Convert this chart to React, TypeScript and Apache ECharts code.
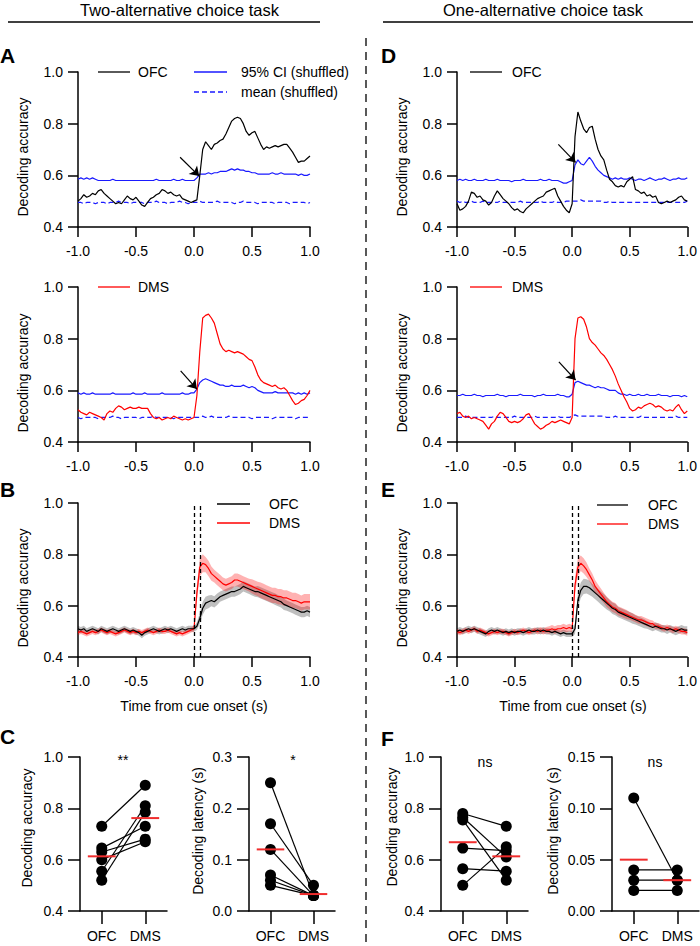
import React, { useEffect, useRef } from 'react';
import * as echarts from 'echarts';

const FONT = '"Liberation Sans", Arial, Helvetica, sans-serif';
const BLUE = '#1a1aff';
const RED = '#ff0000';
const MEANRED = 'rgb(240,45,45)';

// time grid (s), 0.025 s steps from -1 to 1
const TIME = Array.from({ length: 81 }, (_, i) => +(-1 + i * 0.025).toFixed(3));

// ---------- Panel A (two-alternative) ----------
const ofcA = [0.50,0.51,0.525,0.515,0.52,0.53,0.525,0.54,0.545,0.53,
  0.52,0.51,0.50,0.49,0.495,0.49,0.505,0.52,0.51,0.505,
  0.515,0.50,0.485,0.48,0.495,0.51,0.515,0.525,0.53,0.545,
  0.54,0.53,0.535,0.525,0.52,0.525,0.51,0.505,0.50,0.495,
  0.50,0.505,0.60,0.70,0.73,0.715,0.70,0.72,0.725,0.735,
  0.74,0.76,0.785,0.81,0.82,0.825,0.82,0.80,0.77,0.755,
  0.765,0.77,0.745,0.72,0.70,0.71,0.705,0.71,0.715,0.71,
  0.715,0.72,0.72,0.705,0.69,0.67,0.65,0.655,0.655,0.665,
  0.675];
const ciOfcA = [0.585,0.59,0.585,0.59,0.585,0.59,0.585,0.58,0.58,0.58,
  0.58,0.58,0.585,0.58,0.58,0.58,0.58,0.58,0.58,0.58,
  0.58,0.58,0.58,0.58,0.58,0.58,0.58,0.585,0.58,0.58,
  0.58,0.58,0.58,0.585,0.58,0.58,0.585,0.58,0.58,0.58,
  0.58,0.59,0.605,0.605,0.605,0.61,0.605,0.61,0.61,0.615,
  0.615,0.615,0.62,0.625,0.62,0.625,0.62,0.62,0.615,0.615,
  0.61,0.61,0.605,0.605,0.605,0.605,0.605,0.61,0.605,0.605,
  0.61,0.605,0.605,0.605,0.605,0.605,0.60,0.605,0.60,0.60,
  0.605];
const meanOfcA = [0.495,0.495,0.49,0.495,0.495,0.495,0.49,0.495,0.495,0.495,
  0.49,0.495,0.495,0.495,0.50,0.495,0.495,0.495,0.49,0.495,
  0.495,0.495,0.495,0.49,0.495,0.495,0.495,0.50,0.495,0.495,
  0.495,0.49,0.495,0.495,0.495,0.50,0.495,0.495,0.49,0.495,
  0.495,0.495,0.50,0.495,0.495,0.495,0.495,0.495,0.50,0.495,
  0.495,0.495,0.495,0.495,0.49,0.495,0.495,0.50,0.495,0.495,
  0.495,0.495,0.49,0.495,0.495,0.495,0.495,0.495,0.49,0.495,
  0.495,0.495,0.495,0.49,0.495,0.495,0.495,0.495,0.495,0.49,
  0.495];
const dmsA = [0.525,0.515,0.51,0.505,0.515,0.51,0.505,0.50,0.495,0.485,
  0.51,0.52,0.515,0.53,0.54,0.535,0.525,0.53,0.535,0.53,
  0.53,0.535,0.53,0.53,0.53,0.51,0.495,0.49,0.495,0.485,
  0.49,0.495,0.49,0.50,0.495,0.49,0.485,0.49,0.485,0.49,
  0.495,0.58,0.75,0.88,0.89,0.895,0.88,0.86,0.82,0.78,
  0.76,0.75,0.755,0.75,0.745,0.75,0.745,0.74,0.73,0.72,
  0.715,0.69,0.66,0.64,0.63,0.625,0.62,0.615,0.62,0.61,
  0.605,0.61,0.60,0.58,0.56,0.545,0.55,0.56,0.565,0.58,
  0.60];
const ciDmsA = [0.59,0.585,0.59,0.585,0.585,0.59,0.585,0.585,0.585,0.585,
  0.585,0.585,0.59,0.585,0.585,0.585,0.585,0.585,0.585,0.59,
  0.585,0.585,0.585,0.59,0.585,0.585,0.585,0.585,0.585,0.59,
  0.585,0.585,0.585,0.585,0.585,0.585,0.59,0.585,0.585,0.59,
  0.59,0.605,0.63,0.64,0.645,0.64,0.635,0.63,0.625,0.62,
  0.62,0.615,0.615,0.62,0.615,0.615,0.615,0.62,0.615,0.61,
  0.615,0.61,0.60,0.595,0.59,0.59,0.59,0.59,0.595,0.59,
  0.59,0.59,0.59,0.59,0.59,0.585,0.59,0.585,0.59,0.585,
  0.59];
const meanDmsA = [0.495,0.49,0.495,0.495,0.495,0.495,0.495,0.49,0.495,0.495,
  0.495,0.495,0.50,0.495,0.495,0.49,0.495,0.495,0.495,0.495,
  0.495,0.49,0.495,0.495,0.495,0.495,0.50,0.495,0.495,0.495,
  0.495,0.495,0.495,0.49,0.495,0.495,0.495,0.495,0.495,0.495,
  0.495,0.495,0.495,0.50,0.495,0.495,0.50,0.495,0.495,0.495,
  0.495,0.495,0.50,0.495,0.495,0.495,0.495,0.495,0.495,0.495,
  0.49,0.495,0.495,0.495,0.495,0.495,0.495,0.49,0.495,0.495,
  0.495,0.495,0.495,0.495,0.495,0.49,0.495,0.495,0.495,0.495,
  0.495];

// ---------- Panel B (two-alternative, population) ----------
const ofcB = [0.51,0.505,0.51,0.50,0.505,0.51,0.505,0.50,0.51,0.505,
  0.50,0.505,0.51,0.505,0.50,0.505,0.51,0.505,0.50,0.505,
  0.50,0.495,0.485,0.495,0.50,0.505,0.51,0.505,0.50,0.505,
  0.51,0.505,0.51,0.505,0.50,0.505,0.51,0.505,0.51,0.51,
  0.51,0.52,0.55,0.59,0.61,0.615,0.62,0.615,0.625,0.635,
  0.64,0.645,0.65,0.655,0.655,0.66,0.665,0.675,0.67,0.665,
  0.66,0.655,0.655,0.65,0.645,0.64,0.635,0.63,0.625,0.62,
  0.615,0.605,0.60,0.595,0.59,0.585,0.58,0.575,0.575,0.58,
  0.575];
const semOfcB = [0.012,0.012,0.012,0.012,0.012,0.012,0.012,0.012,0.012,0.012,
  0.012,0.012,0.012,0.012,0.012,0.012,0.012,0.012,0.012,0.012,
  0.012,0.012,0.012,0.012,0.012,0.012,0.012,0.012,0.012,0.012,
  0.012,0.012,0.012,0.012,0.012,0.012,0.012,0.012,0.012,0.012,
  0.012,0.015,0.02,0.025,0.025,0.025,0.022,0.022,0.022,0.02,
  0.02,0.02,0.02,0.02,0.02,0.02,0.02,0.02,0.02,0.02,
  0.02,0.02,0.022,0.022,0.022,0.022,0.022,0.022,0.022,0.022,
  0.022,0.022,0.02,0.02,0.02,0.02,0.02,0.02,0.02,0.02,
  0.02];
const dmsB = [0.495,0.50,0.495,0.49,0.495,0.50,0.495,0.50,0.505,0.50,
  0.495,0.50,0.495,0.49,0.495,0.50,0.505,0.50,0.495,0.50,
  0.495,0.50,0.495,0.50,0.505,0.50,0.495,0.50,0.505,0.50,
  0.50,0.505,0.50,0.495,0.49,0.495,0.49,0.495,0.50,0.505,
  0.51,0.65,0.75,0.765,0.76,0.745,0.725,0.715,0.705,0.695,
  0.685,0.68,0.685,0.69,0.70,0.70,0.695,0.69,0.685,0.68,
  0.675,0.67,0.665,0.66,0.655,0.65,0.645,0.64,0.64,0.635,
  0.635,0.63,0.63,0.625,0.62,0.62,0.615,0.61,0.615,0.615,
  0.615];
const semDmsB = [0.01,0.01,0.01,0.01,0.01,0.01,0.01,0.01,0.01,0.01,
  0.01,0.01,0.01,0.01,0.01,0.01,0.01,0.01,0.01,0.01,
  0.01,0.01,0.01,0.01,0.01,0.01,0.01,0.01,0.01,0.01,
  0.01,0.01,0.01,0.01,0.01,0.01,0.01,0.01,0.01,0.01,
  0.012,0.03,0.035,0.035,0.03,0.03,0.028,0.025,0.025,0.025,
  0.025,0.025,0.025,0.025,0.025,0.025,0.025,0.025,0.025,0.025,
  0.028,0.028,0.028,0.03,0.03,0.03,0.03,0.03,0.03,0.03,
  0.03,0.03,0.03,0.03,0.03,0.03,0.03,0.03,0.03,0.03,
  0.03];

// ---------- Panel D (one-alternative) ----------
const ofcD = [0.49,0.465,0.47,0.48,0.50,0.535,0.53,0.515,0.52,0.505,
  0.50,0.485,0.495,0.52,0.54,0.525,0.51,0.50,0.49,0.475,
  0.465,0.47,0.46,0.455,0.47,0.48,0.49,0.50,0.51,0.515,
  0.52,0.535,0.54,0.545,0.55,0.52,0.50,0.48,0.465,0.455,
  0.49,0.75,0.845,0.81,0.78,0.765,0.785,0.79,0.74,0.70,
  0.675,0.66,0.62,0.585,0.575,0.56,0.555,0.56,0.555,0.575,
  0.585,0.595,0.545,0.54,0.53,0.535,0.52,0.525,0.515,0.52,
  0.495,0.49,0.495,0.50,0.495,0.50,0.505,0.515,0.52,0.505,
  0.50];
const ciOfcD = [0.58,0.585,0.58,0.585,0.58,0.58,0.585,0.58,0.58,0.58,
  0.585,0.58,0.58,0.58,0.585,0.58,0.58,0.58,0.58,0.575,
  0.58,0.58,0.58,0.585,0.58,0.58,0.58,0.58,0.58,0.585,
  0.58,0.58,0.585,0.58,0.58,0.58,0.575,0.57,0.57,0.575,
  0.58,0.64,0.66,0.645,0.64,0.655,0.67,0.655,0.635,0.62,
  0.61,0.60,0.595,0.59,0.585,0.59,0.585,0.59,0.585,0.585,
  0.59,0.585,0.58,0.585,0.585,0.58,0.585,0.59,0.585,0.58,
  0.585,0.585,0.59,0.585,0.58,0.585,0.585,0.59,0.585,0.585,
  0.59];
const meanOfcD = [0.50,0.495,0.50,0.495,0.495,0.50,0.495,0.495,0.495,0.50,
  0.495,0.495,0.495,0.495,0.495,0.50,0.495,0.495,0.495,0.495,
  0.495,0.495,0.50,0.495,0.495,0.495,0.495,0.495,0.495,0.50,
  0.495,0.495,0.495,0.495,0.50,0.495,0.495,0.495,0.50,0.50,
  0.50,0.50,0.50,0.505,0.50,0.50,0.50,0.50,0.50,0.50,
  0.50,0.495,0.495,0.50,0.495,0.495,0.495,0.495,0.495,0.495,
  0.495,0.495,0.495,0.495,0.495,0.495,0.495,0.495,0.495,0.495,
  0.495,0.495,0.495,0.495,0.495,0.495,0.495,0.495,0.495,0.495,
  0.50];
const dmsD = [0.51,0.515,0.50,0.495,0.50,0.49,0.495,0.49,0.485,0.48,
  0.465,0.45,0.47,0.48,0.50,0.515,0.51,0.495,0.48,0.475,
  0.48,0.475,0.48,0.49,0.505,0.51,0.49,0.47,0.46,0.45,
  0.455,0.465,0.47,0.48,0.475,0.48,0.485,0.48,0.475,0.47,
  0.495,0.80,0.88,0.885,0.875,0.845,0.80,0.785,0.775,0.76,
  0.745,0.735,0.72,0.70,0.68,0.655,0.625,0.60,0.575,0.555,
  0.53,0.52,0.525,0.535,0.53,0.54,0.545,0.55,0.545,0.535,
  0.54,0.535,0.525,0.52,0.525,0.52,0.535,0.545,0.525,0.51,
  0.52];
const ciDmsD = [0.58,0.58,0.585,0.58,0.58,0.58,0.585,0.58,0.58,0.575,
  0.58,0.58,0.58,0.58,0.585,0.58,0.58,0.575,0.58,0.58,
  0.58,0.58,0.585,0.58,0.58,0.58,0.58,0.575,0.58,0.58,
  0.585,0.58,0.58,0.58,0.58,0.585,0.58,0.58,0.575,0.575,
  0.585,0.63,0.635,0.63,0.625,0.62,0.62,0.615,0.61,0.615,
  0.61,0.61,0.605,0.60,0.60,0.60,0.59,0.585,0.585,0.58,
  0.585,0.58,0.58,0.585,0.58,0.58,0.585,0.58,0.58,0.58,
  0.585,0.58,0.58,0.58,0.575,0.58,0.58,0.58,0.575,0.58,
  0.575];
const meanDmsD = [0.495,0.495,0.495,0.50,0.495,0.495,0.495,0.495,0.495,0.495,
  0.495,0.495,0.495,0.50,0.495,0.495,0.495,0.495,0.495,0.495,
  0.50,0.495,0.495,0.495,0.495,0.495,0.495,0.50,0.495,0.495,
  0.495,0.495,0.495,0.495,0.495,0.50,0.495,0.495,0.495,0.495,
  0.50,0.505,0.50,0.50,0.50,0.50,0.50,0.50,0.50,0.50,
  0.50,0.50,0.495,0.495,0.495,0.50,0.495,0.495,0.495,0.495,
  0.495,0.495,0.495,0.495,0.50,0.495,0.495,0.495,0.495,0.495,
  0.495,0.495,0.495,0.495,0.495,0.495,0.50,0.495,0.495,0.495,
  0.495];

// ---------- Panel E (one-alternative, population) ----------
const ofcE = [0.50,0.505,0.50,0.505,0.51,0.505,0.51,0.505,0.50,0.495,
  0.49,0.50,0.505,0.50,0.505,0.50,0.495,0.50,0.495,0.50,
  0.495,0.50,0.50,0.495,0.50,0.505,0.50,0.50,0.505,0.50,
  0.505,0.50,0.50,0.495,0.50,0.495,0.49,0.495,0.49,0.49,
  0.49,0.51,0.62,0.66,0.675,0.675,0.67,0.66,0.65,0.64,
  0.63,0.62,0.61,0.60,0.59,0.585,0.575,0.57,0.565,0.56,
  0.555,0.55,0.545,0.54,0.535,0.53,0.525,0.52,0.515,0.52,
  0.515,0.51,0.51,0.505,0.51,0.505,0.50,0.505,0.51,0.505,
  0.505];
const semOfcE = [0.012,0.012,0.012,0.012,0.012,0.012,0.012,0.012,0.012,0.012,
  0.012,0.012,0.012,0.012,0.012,0.012,0.012,0.012,0.012,0.012,
  0.012,0.012,0.012,0.012,0.012,0.012,0.012,0.012,0.012,0.012,
  0.012,0.012,0.012,0.012,0.012,0.012,0.012,0.012,0.012,0.012,
  0.012,0.02,0.03,0.03,0.03,0.028,0.028,0.025,0.025,0.025,
  0.025,0.025,0.025,0.022,0.022,0.022,0.02,0.02,0.02,0.02,
  0.02,0.02,0.018,0.018,0.018,0.018,0.015,0.015,0.015,0.015,
  0.015,0.015,0.015,0.015,0.015,0.015,0.015,0.015,0.015,0.015,
  0.015];
const dmsE = [0.50,0.495,0.50,0.505,0.50,0.505,0.51,0.50,0.505,0.50,
  0.495,0.49,0.495,0.50,0.495,0.50,0.50,0.495,0.49,0.495,
  0.50,0.495,0.50,0.505,0.50,0.495,0.50,0.505,0.50,0.505,
  0.50,0.505,0.505,0.51,0.505,0.51,0.51,0.515,0.51,0.515,
  0.51,0.68,0.75,0.765,0.755,0.74,0.72,0.70,0.675,0.66,
  0.645,0.63,0.615,0.605,0.595,0.59,0.58,0.575,0.57,0.565,
  0.56,0.555,0.55,0.545,0.545,0.54,0.535,0.53,0.53,0.52,
  0.52,0.515,0.51,0.515,0.51,0.505,0.51,0.505,0.50,0.50,
  0.495];
const semDmsE = [0.01,0.01,0.01,0.01,0.01,0.01,0.01,0.01,0.01,0.01,
  0.01,0.01,0.01,0.01,0.01,0.01,0.01,0.01,0.01,0.01,
  0.01,0.01,0.01,0.01,0.01,0.01,0.01,0.01,0.012,0.012,
  0.012,0.012,0.015,0.015,0.015,0.015,0.015,0.015,0.015,0.015,
  0.015,0.03,0.035,0.03,0.03,0.028,0.025,0.025,0.025,0.022,
  0.022,0.02,0.02,0.02,0.02,0.02,0.018,0.018,0.018,0.018,
  0.015,0.015,0.015,0.015,0.015,0.015,0.015,0.015,0.012,0.012,
  0.012,0.012,0.012,0.012,0.012,0.012,0.012,0.012,0.012,0.012,
  0.012];

// ---------- Panels C and F (per-animal summaries) ----------
const groups = ['OFC', 'DMS'];
const accOfcC = [0.73, 0.645, 0.63, 0.60, 0.555, 0.52];
const accDmsC = [0.89, 0.73, 0.68, 0.67, 0.81, 0.785];
const accMeanC = [0.613, 0.762];
const latOfcC = [0.25, 0.17, 0.12, 0.07, 0.06, 0.05];
const latDmsC = [0.03, 0.05, 0.03, 0.03, 0.03, 0.03];
const latMeanC = [0.12, 0.033];
const accOfcF = [0.78, 0.765, 0.755, 0.645, 0.565, 0.50];
const accDmsF = [0.73, 0.61, 0.52, 0.635, 0.555, 0.65];
const accMeanF = [0.668, 0.613];
const latOfcF = [0.11, 0.04, 0.03, 0.02];
const latDmsF = [0.03, 0.04, 0.03, 0.02];
const latMeanF = [0.05, 0.03];

const timeTicks = { min: -1, max: 1, interval: 0.5 };
const accTicks = { min: 0.4, max: 1.0, interval: 0.2, digits: 1 };
const latTicksC = { min: 0, max: 0.3, interval: 0.1, digits: 1 };
const latTicksF = { min: 0, max: 0.15, interval: 0.05, digits: 2 };

const AXL = { color: '#000', width: 1.5 };

function pts(arr: number[]) {
  return arr.map((v, i) => [TIME[i], v]);
}

function timeX(gi: number) {
  return {
    type: 'value', gridIndex: gi, ...timeTicks,
    axisLine: { show: true, onZero: false, lineStyle: AXL },
    axisTick: { show: true, length: 10, lineStyle: AXL },
    axisLabel: { show: true, color: '#000', fontSize: 14, fontFamily: FONT, margin: 17, formatter: (v: number) => v.toFixed(1) },
    splitLine: { show: false },
  };
}
function valY(gi: number, t: any, tickLen: number) {
  return {
    type: 'value', gridIndex: gi, min: t.min, max: t.max, interval: t.interval,
    axisLine: { show: true, onZero: false, lineStyle: AXL },
    axisTick: { show: true, length: tickLen, lineStyle: AXL },
    axisLabel: { show: true, color: '#000', fontSize: 14, fontFamily: FONT, margin: tickLen + 5, formatter: (v: number) => v.toFixed(t.digits) },
    splitLine: { show: false },
  };
}
function catX(gi: number) {
  return {
    type: 'category', gridIndex: gi, data: groups, boundaryGap: true,
    axisLine: { show: true, onZero: false, lineStyle: AXL },
    axisTick: { show: true, alignWithLabel: true, length: 13, lineStyle: AXL },
    axisLabel: { show: true, color: '#000', fontSize: 14, fontFamily: FONT, margin: 18 },
    splitLine: { show: false },
  };
}
function hiddenX(gi: number) {
  return { type: 'value', gridIndex: gi, min: -0.5, max: 1.5, show: false, splitLine: { show: false } };
}

function tline(gi: number, arr: number[], color: string, dash: any = 'solid', extra: any = {}) {
  return {
    type: 'line', xAxisIndex: gi, yAxisIndex: gi, data: pts(arr), symbol: 'none', showSymbol: false,
    lineStyle: { color, width: 1.2, type: dash }, itemStyle: { color }, silent: true, ...extra,
  };
}
function arrow(from: number[], to: number[]) {
  return {
    silent: true, symbol: ['none', 'arrow'], symbolSize: 9, precision: 3,
    lineStyle: { color: '#000', width: 1.2, type: 'solid' }, label: { show: false },
    emphasis: { disabled: true },
    data: [[{ coord: from }, { coord: to }]],
  };
}
function cueLines() {
  return {
    silent: true, symbol: ['none', 'none'],
    lineStyle: { color: '#000', width: 1.3, type: [4, 3] }, label: { show: false },
    emphasis: { disabled: true },
    data: [
      [{ coord: [0, 0.4] }, { coord: [0, 0.99] }],
      [{ coord: [0.05, 0.4] }, { coord: [0.05, 0.99] }],
    ],
  };
}
function band(gi: number, m: number[], s: number[], fill: string) {
  return {
    type: 'custom', xAxisIndex: gi, yAxisIndex: gi, data: [[0, 0.5]], silent: true,
    renderItem: (_p: any, api: any) => {
      const up = TIME.map((t, i) => api.coord([t, m[i] + s[i]]));
      const lo = TIME.map((t, i) => api.coord([t, m[i] - s[i]])).reverse();
      return { type: 'polygon', shape: { points: up.concat(lo) }, style: { fill, stroke: 'none' } };
    },
  };
}
function pairs(xi: number, yi: number, a: number[], b: number[]) {
  return a.map((v, i) => ({
    type: 'line', xAxisIndex: xi, yAxisIndex: yi, data: [[0, v], [1, b[i]]],
    symbol: 'circle', symbolSize: 11, showSymbol: true, silent: true,
    lineStyle: { color: '#000', width: 1.2 }, itemStyle: { color: '#000' },
  }));
}
function means(xi: number, yi: number, m: number[]) {
  return m.map((v, k) => ({
    type: 'line', xAxisIndex: xi, yAxisIndex: yi, data: [[k - 0.32, v], [k + 0.32, v]],
    symbol: 'none', showSymbol: false, silent: true, z: 5,
    lineStyle: { color: MEANRED, width: 2 },
  }));
}

function txt(x: number, y: number, text: string, size = 14, align = 'left', extra: any = {}) {
  return {
    type: 'text', x, y, silent: true, ...extra,
    style: {
      text, fill: '#000', font: `${extra.bold ? 'bold ' : ''}${size}px ${FONT}`,
      textAlign: align, textVerticalAlign: 'middle', align, verticalAlign: 'middle',
    },
  };
}
function vtxt(x: number, y: number, text: string) {
  return {
    type: 'text', x, y, rotation: Math.PI / 2, silent: true,
    style: {
      text, fill: '#000', font: `14px ${FONT}`,
      textAlign: 'center', textVerticalAlign: 'middle', align: 'center', verticalAlign: 'middle',
    },
  };
}
function hline(x1: number, x2: number, y: number, color: string, width = 1.3, dash?: number[]) {
  return {
    type: 'line', silent: true, shape: { x1, y1: y, x2, y2: y },
    style: { stroke: color, lineWidth: width, lineDash: dash },
  };
}

function buildOption() {
  const grid = [
    { left: 78, top: 72, width: 232, height: 155 },   // 0 A top
    { left: 78, top: 287, width: 232, height: 155 },  // 1 A bottom
    { left: 78, top: 503, width: 232, height: 154 },  // 2 B
    { left: 457, top: 72, width: 232, height: 155 },  // 3 D top
    { left: 457, top: 287, width: 232, height: 155 }, // 4 D bottom
    { left: 457, top: 503, width: 232, height: 154 }, // 5 E
    { left: 80, top: 757, width: 87, height: 154 },   // 6 C acc
    { left: 249, top: 757, width: 86, height: 154 },  // 7 C lat
    { left: 441, top: 757, width: 87, height: 154 },  // 8 F acc
    { left: 612, top: 757, width: 87, height: 154 },  // 9 F lat
  ];
  const xAxis = [
    timeX(0), timeX(1), timeX(2), timeX(3), timeX(4), timeX(5),
    catX(6), catX(7), catX(8), catX(9),
    hiddenX(6), hiddenX(7), hiddenX(8), hiddenX(9),
  ];
  const yAxis = [
    valY(0, accTicks, 10), valY(1, accTicks, 10), valY(2, accTicks, 10),
    valY(3, accTicks, 10), valY(4, accTicks, 10), valY(5, accTicks, 10),
    valY(6, accTicks, 12), valY(7, latTicksC, 12), valY(8, accTicks, 12), valY(9, latTicksF, 12),
  ];

  const series: any[] = [
    // A top
    tline(0, meanOfcA, BLUE, [5, 3]),
    tline(0, ciOfcA, BLUE, 'solid', { markLine: arrow([-0.12, 0.67], [0.045, 0.597]) }),
    tline(0, ofcA, '#000'),
    // A bottom
    tline(1, meanDmsA, BLUE, [5, 3]),
    tline(1, ciDmsA, BLUE, 'solid', { markLine: arrow([-0.115, 0.675], [0.025, 0.605]) }),
    tline(1, dmsA, RED),
    // B
    band(2, ofcB, semOfcB, 'rgba(0,0,0,0.25)'),
    band(2, dmsB, semDmsB, 'rgba(255,0,0,0.3)'),
    tline(2, dmsB, RED),
    tline(2, ofcB, '#000', 'solid', { markLine: cueLines() }),
    // D top
    tline(3, meanOfcD, BLUE, [5, 3]),
    tline(3, ciOfcD, BLUE, 'solid', { markLine: arrow([-0.12, 0.72], [0.03, 0.65]) }),
    tline(3, ofcD, '#000'),
    // D bottom
    tline(4, meanDmsD, BLUE, [5, 3]),
    tline(4, ciDmsD, BLUE, 'solid', { markLine: arrow([-0.115, 0.71], [0.03, 0.64]) }),
    tline(4, dmsD, RED),
    // E
    band(5, ofcE, semOfcE, 'rgba(0,0,0,0.25)'),
    band(5, dmsE, semDmsE, 'rgba(255,0,0,0.3)'),
    tline(5, dmsE, RED),
    tline(5, ofcE, '#000', 'solid', { markLine: cueLines() }),
    // C / F
    ...pairs(10, 6, accOfcC, accDmsC), ...means(10, 6, accMeanC),
    ...pairs(11, 7, latOfcC, latDmsC), ...means(11, 7, latMeanC),
    ...pairs(12, 8, accOfcF, accDmsF), ...means(12, 8, accMeanF),
    ...pairs(13, 9, latOfcF, latDmsF), ...means(13, 9, latMeanF),
  ];

  const graphic: any[] = [
    txt(179.5, 10, 'Two-alternative choice task', 16.5, 'center'),
    txt(543, 10, 'One-alternative choice task', 16.5, 'center'),
    hline(8, 320, 22, '#000', 1.5),
    hline(383, 693, 22, '#000', 1.5),
    { type: 'line', silent: true, shape: { x1: 366, y1: 38, x2: 366, y2: 942 }, style: { stroke: '#000', lineWidth: 1.3, lineDash: [8, 6] } },
    // panel letters
    txt(0, 55, 'A', 21, 'left', { bold: true }),
    txt(0, 489, 'B', 21, 'left', { bold: true }),
    txt(0, 736, 'C', 21, 'left', { bold: true }),
    txt(381, 55, 'D', 21, 'left', { bold: true }),
    txt(381, 489, 'E', 21, 'left', { bold: true }),
    txt(381, 738, 'F', 21, 'left', { bold: true }),
    // axis names
    vtxt(23, 157, 'Decoding accuracy'),
    vtxt(23, 373, 'Decoding accuracy'),
    vtxt(23, 588, 'Decoding accuracy'),
    vtxt(402, 157, 'Decoding accuracy'),
    vtxt(402, 373, 'Decoding accuracy'),
    vtxt(402, 588, 'Decoding accuracy'),
    vtxt(27, 828, 'Decoding accuracy'),
    vtxt(198, 831, 'Decoding latency (s)'),
    vtxt(392, 827, 'Decoding accuracy'),
    vtxt(553, 831, 'Decoding latency (s)'),
    txt(194, 706, 'Time from cue onset (s)', 14, 'center'),
    txt(573, 706, 'Time from cue onset (s)', 14, 'center'),
    // legends
    hline(98, 130, 72, '#000'), txt(138, 72, 'OFC'),
    hline(194, 227, 72, BLUE), txt(241, 72, '95% CI (shuffled)'),
    hline(194, 227, 92, BLUE, 1.3, [5, 3]), txt(241, 92, 'mean (shuffled)'),
    hline(98, 130, 287, RED), txt(138, 287, 'DMS'),
    hline(470, 502, 72, '#000'), txt(512, 72, 'OFC'),
    hline(470, 502, 287, RED), txt(512, 287, 'DMS'),
    hline(217, 250, 504, '#000'), txt(269, 504, 'OFC'),
    hline(217, 250, 523, RED), txt(269, 523, 'DMS'),
    hline(597, 628, 505, '#000'), txt(648, 505, 'OFC'),
    hline(597, 628, 524, RED), txt(648, 524, 'DMS'),
    // significance
    txt(123, 760, '**', 14, 'center'),
    txt(293, 760, '*', 14, 'center'),
    txt(485, 762, 'ns', 14, 'center'),
    txt(655, 762, 'ns', 14, 'center'),
  ];

  return {
    animation: false,
    backgroundColor: '#fff',
    textStyle: { fontFamily: FONT },
    grid, xAxis, yAxis, series, graphic,
  };
}

export default function App() {
  const ref = useRef<HTMLDivElement>(null);
  useEffect(() => {
    if (!ref.current) return;
    const chart = echarts.init(ref.current, null, { renderer: 'svg' });
    chart.setOption(buildOption() as any);
    return () => chart.dispose();
  }, []);
  return <div ref={ref} style={{ position: 'absolute', left: 0, top: 0, width: 700, height: 946, background: '#fff' }} />;
}
